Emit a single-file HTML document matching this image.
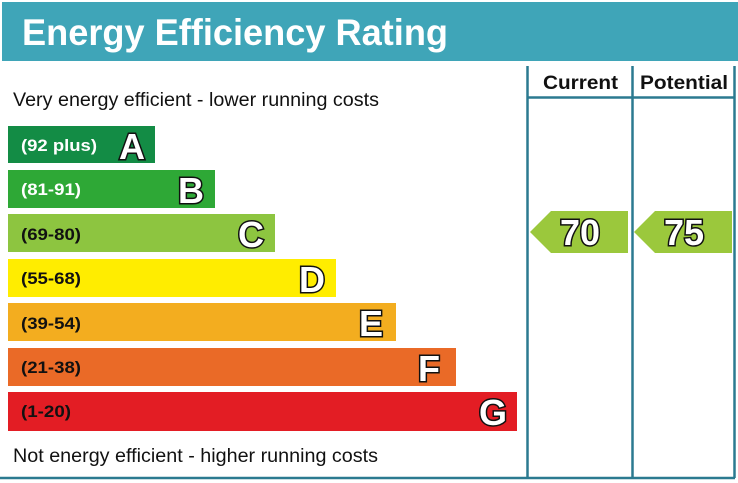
<!DOCTYPE html><html><head><style>body{margin:0;background:#fff}svg{display:block}</style></head><body>
<svg width="738" height="483" xmlns="http://www.w3.org/2000/svg" font-family="Liberation Sans, Arial, sans-serif">
<rect x="0" y="0" width="738" height="483" fill="#fff"/>
<rect x="2" y="2" width="736" height="59" fill="#3fa5b8"/>
<text x="22" y="45" font-size="37" font-weight="bold" fill="#fff" textLength="426" lengthAdjust="spacingAndGlyphs">Energy Efficiency Rating</text>
<g stroke="#2b7a90" stroke-width="2.5" fill="none">
<line x1="527.5" y1="66" x2="527.5" y2="478"/>
<line x1="632.5" y1="66" x2="632.5" y2="478"/>
<line x1="734.5" y1="66" x2="734.5" y2="478"/>
<line x1="527" y1="97.5" x2="735" y2="97.5"/>
<line x1="0" y1="478" x2="735" y2="478"/>
</g>
<text x="543" y="89" font-size="19" font-weight="bold" fill="#111" textLength="75" lengthAdjust="spacingAndGlyphs">Current</text>
<text x="640" y="89" font-size="19" font-weight="bold" fill="#111" textLength="88" lengthAdjust="spacingAndGlyphs">Potential</text>
<text x="13" y="106" font-size="19" fill="#111" textLength="366" lengthAdjust="spacingAndGlyphs">Very energy efficient - lower running costs</text>
<text x="13" y="462" font-size="19" fill="#111" textLength="365" lengthAdjust="spacingAndGlyphs">Not energy efficient - higher running costs</text>
<g font-weight="bold">
<rect x="8" y="126" width="147" height="37" fill="#138c45"/>
<rect x="8" y="170" width="207" height="38" fill="#2ea836"/>
<rect x="8" y="214" width="267" height="38" fill="#8dc540"/>
<rect x="8" y="259" width="328" height="38" fill="#ffed00"/>
<rect x="8" y="303" width="388" height="38" fill="#f3ad1f"/>
<rect x="8" y="348" width="448" height="38" fill="#ea6a27"/>
<rect x="8" y="392" width="509" height="39" fill="#e31d24"/>
<g font-size="17">
<text x="21" y="151" fill="#fff" textLength="76" lengthAdjust="spacingAndGlyphs">(92 plus)</text>
<text x="21" y="195" fill="#fff" textLength="60" lengthAdjust="spacingAndGlyphs">(81-91)</text>
<text x="21" y="240" fill="#111" textLength="60" lengthAdjust="spacingAndGlyphs">(69-80)</text>
<text x="21" y="284" fill="#111" textLength="60" lengthAdjust="spacingAndGlyphs">(55-68)</text>
<text x="21" y="329" fill="#111" textLength="60" lengthAdjust="spacingAndGlyphs">(39-54)</text>
<text x="21" y="373" fill="#111" textLength="60" lengthAdjust="spacingAndGlyphs">(21-38)</text>
<text x="21" y="417" fill="#111" textLength="50" lengthAdjust="spacingAndGlyphs">(1-20)</text>
</g>
<g font-size="36" fill="#fff" stroke="#111" stroke-width="3" paint-order="stroke" text-anchor="end">
<text x="145" y="159">A</text>
<text x="204" y="203">B</text>
<text x="264" y="247">C</text>
<text x="325" y="292">D</text>
<text x="383" y="336">E</text>
<text x="440" y="381">F</text>
<text x="507" y="425">G</text>
</g>
<polygon points="530,232 551,211 628,211 628,253 551,253" fill="#9bc83c"/>
<polygon points="634,232 655,211 732,211 732,253 655,253" fill="#9bc83c"/>
<g font-size="36" fill="#fff" stroke="#111" stroke-width="3" paint-order="stroke" text-anchor="middle">
<text x="580" y="245">70</text>
<text x="684" y="245">75</text>
</g>
</g>
</svg></body></html>
